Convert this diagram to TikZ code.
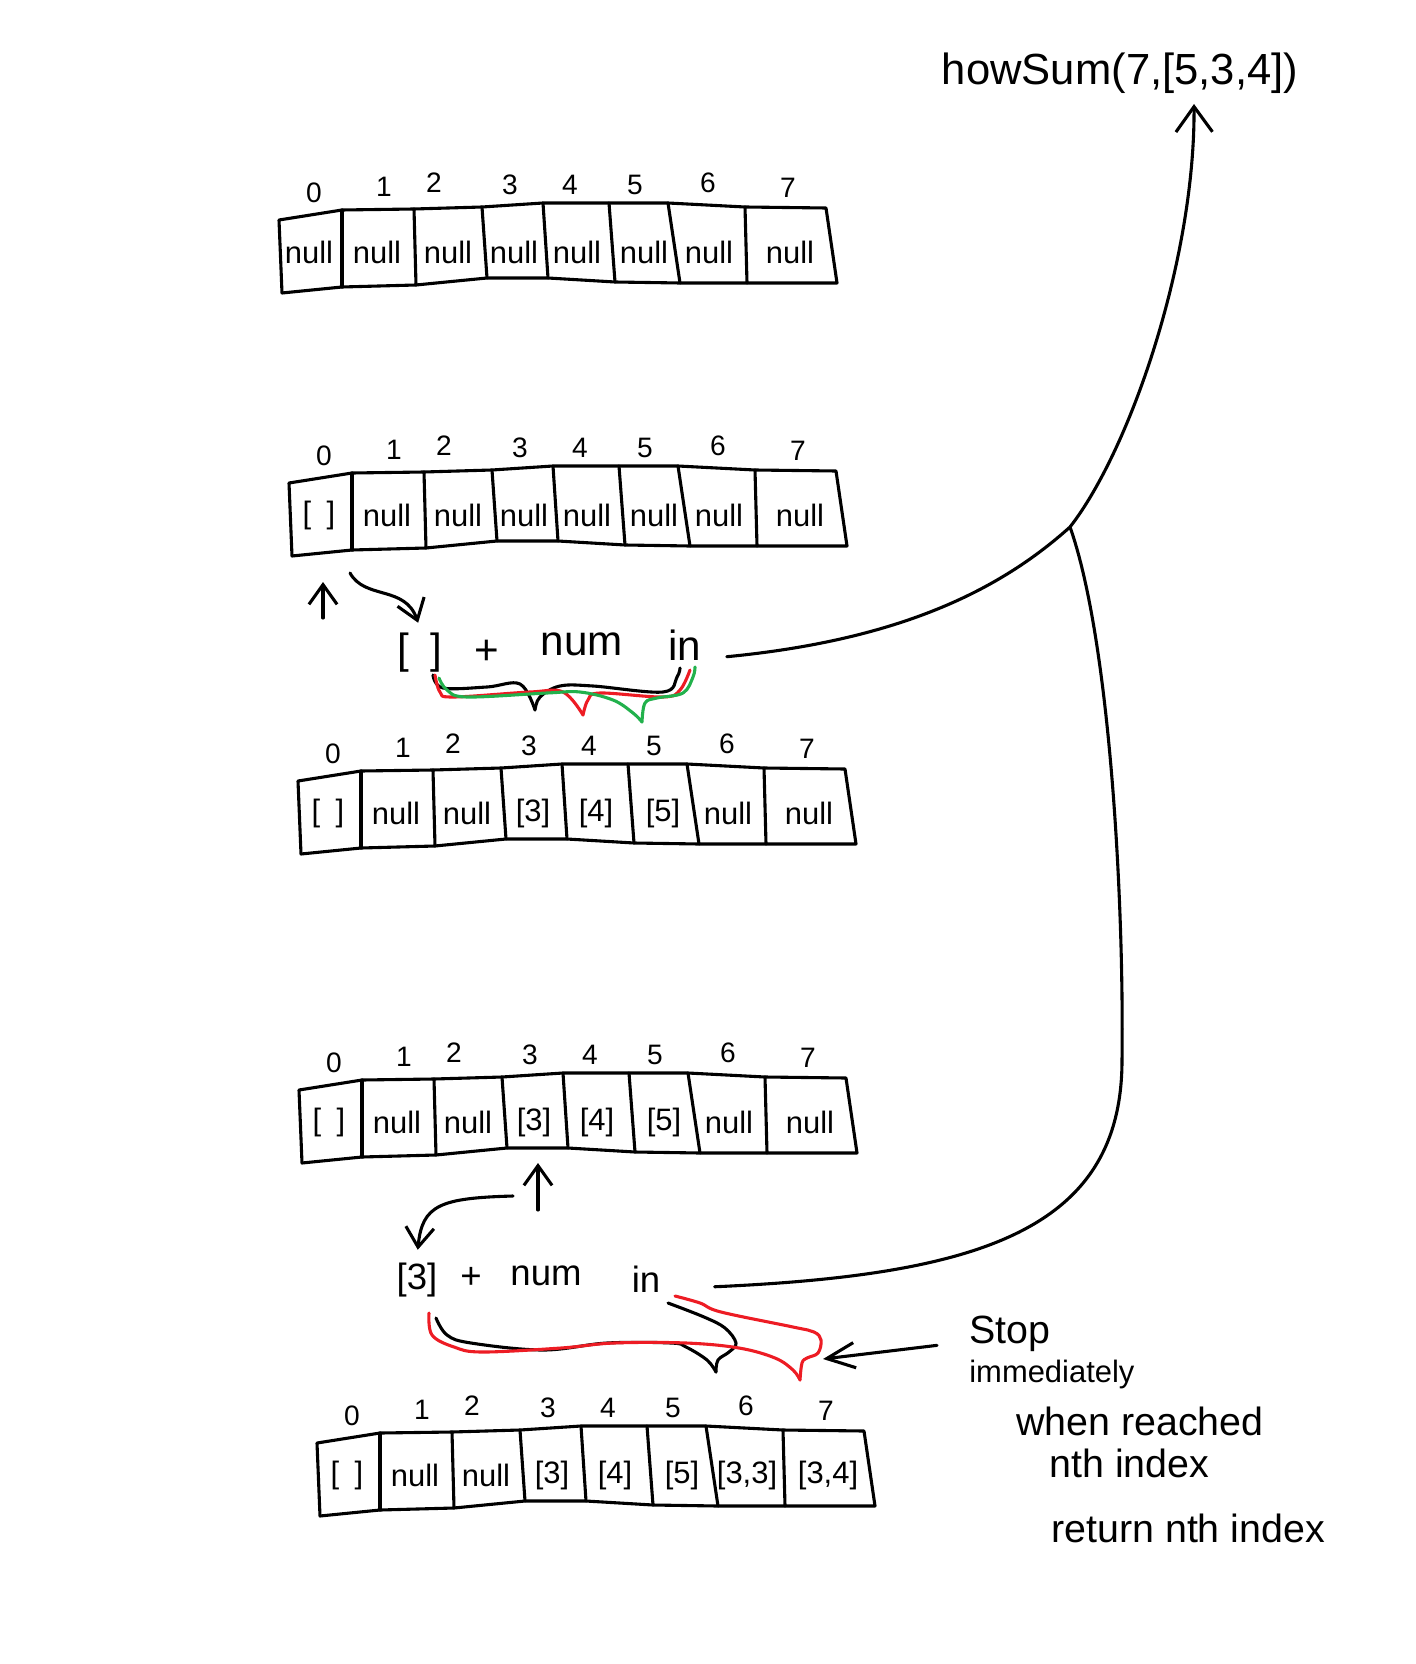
\documentclass[tikz,border=0pt]{standalone}
\usepackage{fontspec}
\setmainfont{Liberation Sans}
\usetikzlibrary{arrows.meta}
\definecolor{paintrot}{RGB}{237,28,36}
\definecolor{paintgruen}{RGB}{34,177,76}
\begin{document}
\begin{tikzpicture}[x=0.0125cm, y=-0.0125cm, line width=1.1pt, line join=round, line cap=round,
  >={Straight Barb[length=7pt,width=10pt]},
  zelle/.style={font=\fontsize{11}{13}\selectfont, inner sep=1pt},
  index/.style={font=\fontsize{10}{12}\selectfont, inner sep=1pt},
  ausdruck/.style={font=\fontsize{15}{18}\selectfont, inner sep=1pt, anchor=base},
  notiz/.style={font=\fontsize{14}{17}\selectfont, inner sep=1pt, anchor=base west},
  gross/.style={-{Straight Barb[length=9pt,width=13pt]}}]
  \useasboundingbox (0,0) rectangle (1416,1664);
  % Titel
  \node[font=\fontsize{15.5}{18}\selectfont, anchor=base] (titel) at (1120,85) {howSum(7,[5,3,4])};
  % Felder mit Index und Inhalt
  \foreach \fn/\px/\py/\inh in {a/279/220/{null,null,null,null,null,null,null,null},
      b/289/483/{[\enspace],null,null,null,null,null,null,null},
      c/298/781/{[\enspace],null,null,[3],[4],[5],null,null},
      d/299/1090/{[\enspace],null,null,[3],[4],[5],null,null},
      e/317/1443/{[\enspace],null,null,[3],[4],[5],{[3,3]},{[3,4]}}} {
    \begin{scope}[shift={(\px,\py)}]
      \draw (0,0) -- (63,-10) -- (135,-11) -- (203,-13) -- (264,-17) -- (389,-17) -- (466,-13) -- (547,-12)
        -- (558,63) -- (468,63) -- (401,63) -- (336,62) -- (269,58) -- (208,58) -- (137,65) -- (63,67) -- (3,73) -- cycle;
      \foreach \xo/\xu/\yo/\yu in {63/63/-10/67, 135/137/-11/65, 203/208/-13/58, 264/269/-17/58,
          330/336/-17/62, 389/401/-17/63, 466/468/-13/63}
        \draw (\xo,\yo) -- (\xu,\yu);
      \foreach \x/\y [count=\i from 0] in {35/-27, 105/-33, 155/-37, 231/-35, 291/-35, 356/-35, 429/-37, 509/-32}
        \node[index] (\fn i\i) at (\x,\y) {\i};
      \foreach \txt [count=\i from 0] in \inh {
        \pgfmathsetmacro\cx{{30,98,169,235,298,365,430,511}[\i]}
        \node[zelle] (\fn\i) at (\cx,32) {\txt};
      }
    \end{scope}
  }
  % erster Ausdruck
  \node[ausdruck] (e1a) at (420,663) {[\enspace]};
  \node[ausdruck] (e1p) at (487,664) {+};
  \node[ausdruck] (e1n) at (582,655) {num};
  \node[ausdruck] (e1i) at (685,660) {in};
  \coordinate (p1) at (323,618);
  \draw[->] (p1) -- ++(0,-36);
  \coordinate (w1) at (350,573);
  \draw[->, shorten >=2pt] (w1) .. controls (365,600) and (405,585) .. (e1a.north);
  % Klammern unter dem ersten Ausdruck
  \draw plot[smooth, tension=0.6] coordinates {(433,675) (443,688) (487,687) (520,684) (535,710)};
  \draw plot[smooth, tension=0.6] coordinates {(535,710) (540,697) (560,686) (593,686) (663,692) (677,677) (680,668)};
  \draw[paintrot] plot[smooth, tension=0.6] coordinates {(435,675) (440,692) (453,697) (530,692) (563,692) (583,715)};
  \draw[paintrot] plot[smooth, tension=0.6] coordinates {(583,715) (588,700) (600,693) (663,697) (680,690) (690,670)};
  \draw[paintgruen] plot[smooth, tension=0.6] coordinates {(439,678) (447,690) (467,697) (547,693) (580,692) (613,700) (633,713) (642,722)};
  \draw[paintgruen] plot[smooth, tension=0.6] coordinates {(642,722) (645,703) (657,698) (683,693) (693,677) (695,667)};
  % zweiter Ausdruck
  \node[ausdruck, font=\fontsize{13}{16}\selectfont] (e2a) at (417,1289) {[3]};
  \node[ausdruck, font=\fontsize{13}{16}\selectfont] (e2p) at (471,1288) {+};
  \node[ausdruck, font=\fontsize{13}{16}\selectfont] (e2n) at (546,1285) {num};
  \node[ausdruck, font=\fontsize{13}{16}\selectfont] (e2i) at (646,1292) {in};
  \coordinate (p2) at (538,1210);
  \draw[->] (p2) -- ++(0,-47);
  \coordinate (w2) at (513,1196);
  \draw[->, shorten >=3pt] (w2) .. controls (440,1198) and (422,1205) .. (e2a.north);
  % Klammern unter dem zweiten Ausdruck
  \draw plot[smooth, tension=0.6] coordinates {(436,1318) (447,1335) (471,1343) (543,1350) (607,1343) (671,1343) (686,1347) (707,1360) (716,1372)};
  \draw plot[smooth, tension=0.6] coordinates {(668,1303) (704,1317) (725,1328) (736,1343) (729,1352) (718,1360) (716,1372)};
  \draw[paintrot] plot[smooth, tension=0.6] coordinates {(429,1313) (432,1335) (454,1347) (482,1352) (561,1348) (614,1343) (686,1343) (739,1348) (775,1358) (793,1370) (800,1380)};
  \draw[paintrot] plot[smooth, tension=0.6] coordinates {(675,1296) (700,1303) (721,1312) (793,1327) (814,1332) (821,1340) (818,1353) (807,1358) (802,1363) (800,1380)};
  % Rueckgabe zum Aufruf
  \coordinate (knoten) at (1070,527);
  \coordinate (ziel) at (1194,104);
  \draw[gross] (e1i.east) ++(21,12) .. controls (900,640) and (1000,590) .. (knoten) .. controls (1130,450) and (1195,260) .. (ziel);
  \draw (e2i.east) ++(50,8) .. controls (980,1275) and (1122,1230) .. (1122,1060) .. controls (1124,900) and (1110,640) .. (knoten);
  % Notiz
  \node[notiz] (stop) at (965,1343) {Stop};
  \node[notiz, font=\fontsize{11}{13}\selectfont] (sofort) at (965,1382) {immediately};
  \node[notiz] (wann) at (1012,1435) {when reached};
  \node[notiz] (nte) at (1045,1477) {nth index};
  \node[notiz] (rueck) at (1047,1542) {return nth index};
  \coordinate (spitze) at (823,1359);
  \draw[-{Straight Barb[length=10pt,width=9pt]}] (stop.west) ++(-28,12) -- (spitze);
\end{tikzpicture}
\end{document}
